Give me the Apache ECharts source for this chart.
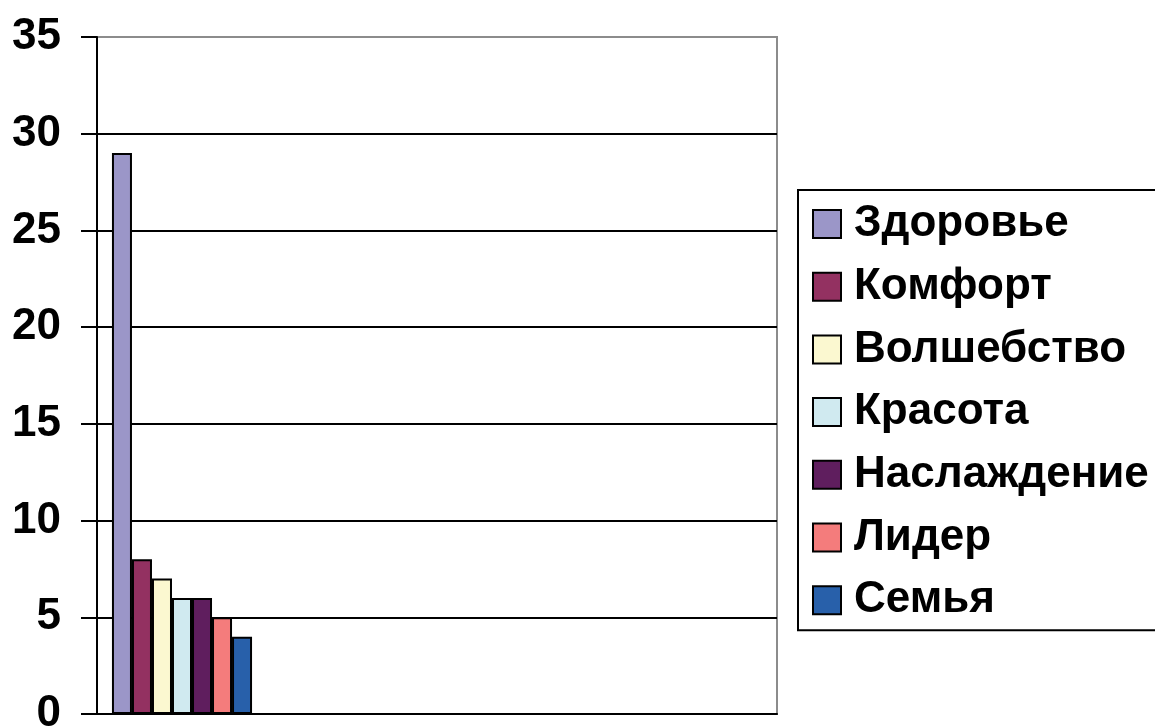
<!DOCTYPE html>
<html>
<head>
<meta charset="utf-8">
<script src="https://cdn.jsdelivr.net/npm/echarts@6/dist/echarts.min.js"></script>
<style>
  html, body { margin: 0; padding: 0; background: #fff; }
  #chart { width: 1155px; height: 726px; }
</style>
</head>
<body>
<div id="chart"></div>
<script>
const categories = ['', '', '', '']
const seriesNames = ['Здоровье', 'Комфорт', 'Волшебство', 'Красота', 'Наслаждение', 'Лидер', 'Семья']
const seriesValues = [29, 8, 7, 6, 6, 5, 4]
const seriesColors = ['#9b96c8', '#933161', '#fbf8d0', '#d0eaf0', '#5f1e5e', '#f47c7c', '#2860aa']

const chart = echarts.init(document.getElementById('chart'), null, { renderer: 'canvas' })

const series = seriesNames.map((name, i) => ({
  name,
  type: 'bar',
  data: categories.map((c, j) => (j === 0 ? seriesValues[i] : '-')),
  barGap: '0%',
  barCategoryGap: '17.6%',
  itemStyle: { color: seriesColors[i], borderColor: '#000', borderWidth: 2 },
}))

chart.setOption({
  animation: false,
  textStyle: { fontFamily: 'Liberation Sans, Arial, sans-serif' },
  grid: {
    left: 97, right: 378, top: 37, bottom: 12,
    outerBoundsMode: 'none',
    containLabel: false,
    show: true, borderColor: '#8c8c8c', borderWidth: 2,
  },
  legend: {
    orient: 'vertical',
    left: 798,
    top: 190,
    padding: [12, 30, 8, 14],
    icon: 'rect',
    itemWidth: 28,
    itemHeight: 28,
    itemGap: 18.7,
    borderColor: '#000',
    borderWidth: 2,
    textStyle: { fontSize: 44, fontWeight: 'bold', color: '#000', padding: [0, 0, 0, 8], lineHeight: 44 },
    data: seriesNames,
  },
  xAxis: {
    type: 'category',
    data: categories,
    axisLine: { lineStyle: { color: '#000', width: 2 } },
    axisTick: { length: 12, lineStyle: { color: '#000', width: 2 } },
    axisLabel: { show: false },
  },
  yAxis: {
    type: 'value',
    min: 0,
    max: 35,
    interval: 5,
    axisLine: { show: true, lineStyle: { color: '#000', width: 2 } },
    axisTick: { show: true, length: 16, lineStyle: { color: '#000', width: 2 } },
    axisLabel: { fontSize: 44, fontWeight: 'bold', color: '#000', margin: 36 },
    splitLine: { lineStyle: { color: ['#000', '#000', '#000', '#000', '#000', '#000', '#000', '#8c8c8c'], width: 2 } },
  },
  series,
})
</script>
</body>
</html>
